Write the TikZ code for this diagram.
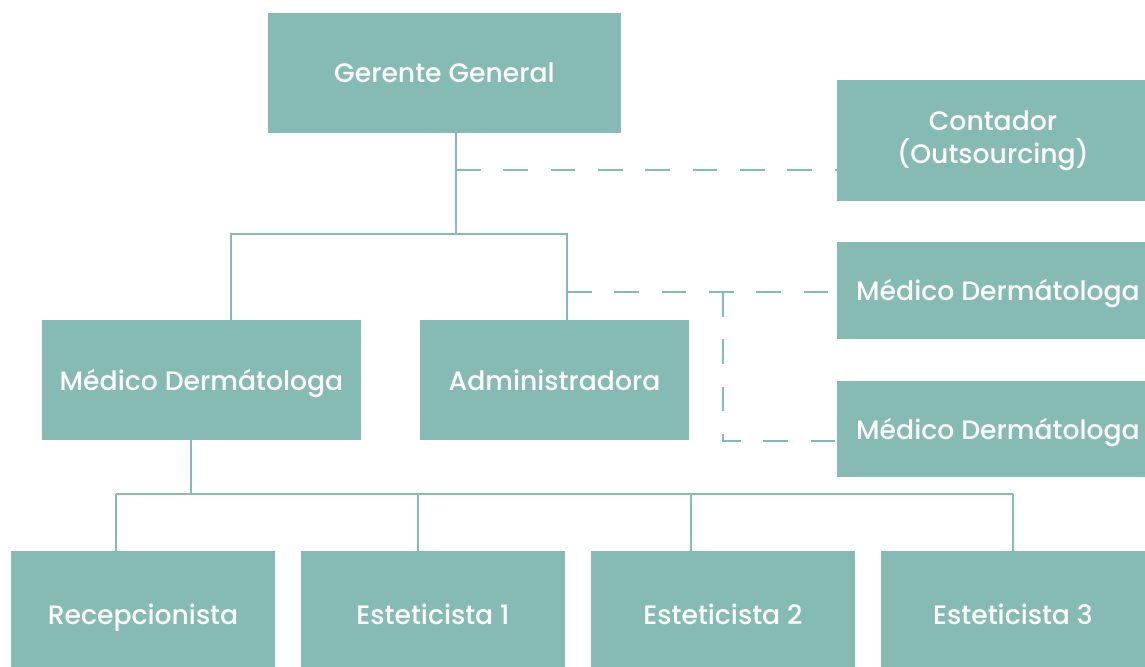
\documentclass[tikz,border=0pt]{standalone}
\usepackage{fontspec}
\setmainfont{Poppins}[UprightFont=* Medium]
\usetikzlibrary{positioning,calc}
\definecolor{cSage}{HTML}{86BBB4}

\begin{document}
\begin{tikzpicture}[x=.75pt,y=-.75pt,font=\fontsize{20}{25}\selectfont,
  box/.style={fill=cSage,text=white,inner sep=0pt,align=center},
  oneline/.style={text height=15pt,text depth=0pt},
  link/.style={draw=cSage,line width=1.9pt},
  dlink/.style={link,dash pattern=on 18.5pt off 17pt}]
\path[use as bounding box] (0,0) rectangle (1145,667);
\clip (0,0) rectangle (1145,667);
% boxes
\node[box,oneline,minimum width=264.75pt,minimum height=90pt] (gg) at (444.5,73) {Gerente General};
\node[box,minimum width=234pt,minimum height=90.75pt] (cont) at (993,140.5) {Contador\\(Outsourcing)};
\node[box,oneline,minimum width=241.5pt,minimum height=72.75pt] (mdr1) at (998,290.5) {Médico Dermátologa};
\node[box,oneline,minimum width=241.5pt,minimum height=72pt] (mdr2) at (998,429) {Médico Dermátologa};
\node[box,oneline,minimum width=239.25pt,minimum height=90pt] (md) at (201.5,380) {Médico Dermátologa};
\node[box,oneline,minimum width=201.75pt,minimum height=90pt] (adm) at (554.5,380) {Administradora};
\foreach \n/\x/\t in {rec/143/Recepcionista,est1/433/Esteticista 1,est2/723/Esteticista 2,est3/1013/Esteticista 3}
  \node[box,oneline,minimum width=198pt,minimum height=94.5pt] (\n) at (\x,614) {\t};
% solid links
\coordinate (ggj) at (456,234);
\coordinate (bl) at (231,234);
\coordinate (br) at (567,234);
\draw[link] (gg.south -| ggj) -- (ggj);
\draw[link] (md.north -| bl) -- (bl) -- (br) -- (adm.north -| br);
\coordinate (mdj) at (191,494);
\coordinate (rl) at (116,494);
\coordinate (rr) at (1013,494);
\draw[link] (md.south -| mdj) -- (mdj);
\draw[link] (rl) -- (rr);
\foreach \n/\x in {rec/116,est1/418,est2/691,est3/1013}
  \draw[link] (\x,494) -- (\n.north -| \x,494);
% dashed links
\coordinate (cj) at (456,170);
\coordinate (aj) at (567,292);
\coordinate (mj) at (723,292);
\coordinate (mb) at (723,441);
\draw[dlink] (cj) -- (cj -| cont.west);
\draw[dlink] (aj) -- (aj -| mdr1.west);
\draw[dlink] (mj) -- (mb) -- (mb -| mdr2.west);
\end{tikzpicture}
\end{document}
